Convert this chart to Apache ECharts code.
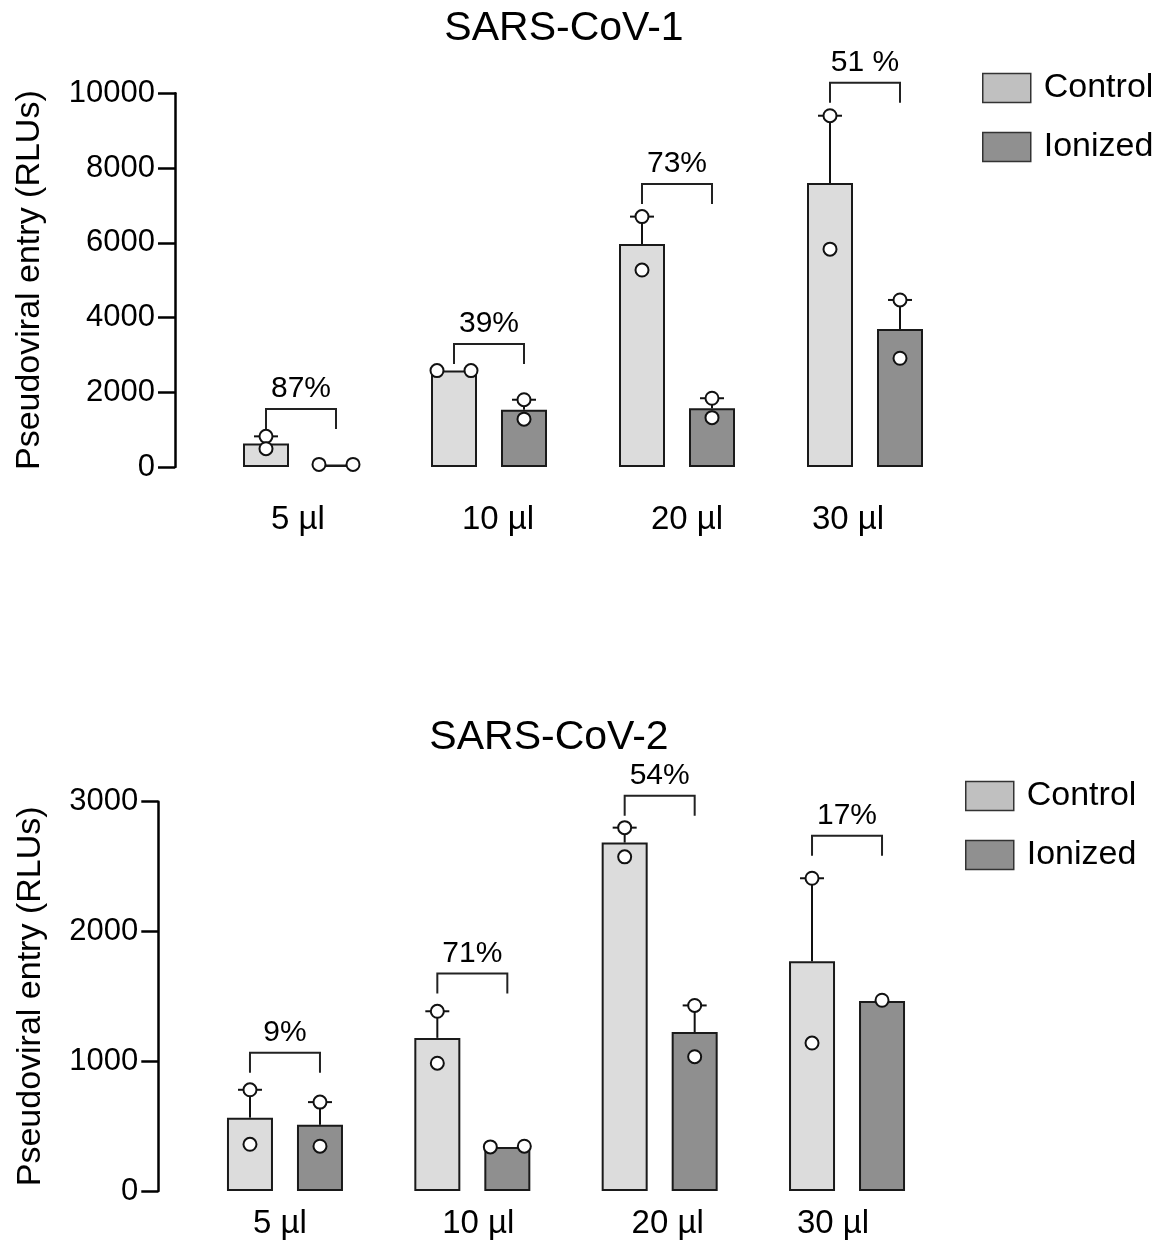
<!DOCTYPE html>
<html><head><meta charset="utf-8">
<script src="https://cdn.jsdelivr.net/npm/echarts@6/dist/echarts.min.js"></script>
<style>html,body{margin:0;padding:0;background:#fff}#c{width:1158px;height:1245px}</style>
</head><body><div id="c"></div><script>
// ---------- data ----------
const categories = ['5 µl', '10 µl', '20 µl', '30 µl'];
const seriesNames = ['Control', 'Ionized'];

// SARS-CoV-1
const cov1Title = 'SARS-CoV-1';
const cov1YTicks = { min: 0, max: 10000, interval: 2000 };
const cov1ControlMean = [630, 2580, 5970, 7600];
const cov1IonizedMean = [70, 1530, 1570, 3690];
const cov1ControlErr = [190, 0, 730, 1800];
const cov1IonizedErr = [0, 270, 270, 780];
const cov1ControlPts = [[820, 490], [2580, 2580], [6700, 5270], [9400, 5830]];
const cov1IonizedPts = [[70, 70], [1800, 1280], [1840, 1320], [4470, 2910]];
const cov1BracketTop = [1552, 3291, 7573, 10284];
const cov1Percent = ['87%', '39%', '73%', '51 %'];

// SARS-CoV-2
const cov2Title = 'SARS-CoV-2';
const cov2YTicks = { min: 0, max: 3000, interval: 1000 };
const cov2ControlMean = [565, 1180, 2685, 1770];
const cov2IonizedMean = [510, 340, 1225, 1465];
const cov2ControlErr = [215, 205, 115, 640];
const cov2IonizedErr = [175, 0, 205, 0];
const cov2ControlPts = [[780, 360], [1385, 985], [2800, 2575], [2410, 1140]];
const cov2IonizedPts = [[685, 345], [340, 345], [1430, 1035], [1470]];
const cov2BracketTop = [1066, 1677, 3045, 2737];
const cov2Percent = ['9%', '71%', '54%', '17%'];

const yName = 'Pseudoviral entry (RLUs)';

// ---------- style / layout ----------
const FONT = "'Liberation Sans', Arial, Helvetica, sans-serif";
const BAR_W = 46, BAR_GAP = 24;
const OFF = (BAR_W + BAR_GAP) / 2;
const INK = '#111';
const CTRL_FILL = '#dcdcdc', ION_FILL = '#8f8f8f';
// horizontal nudges of the category labels (px) as placed in the original figure
const LABEL_SHIFT_1 = [-3, 9, 10, -17];
const LABEL_SHIFT_2 = [-5, 6, 8, -14];

function panel(k, d, grid, axisOffset, xLabelMargin, nameGap, shifts) {
  const grids = { left: grid.left, right: grid.right, top: grid.top, bottom: grid.bottom, containLabel: false };
  const rich = {};
  shifts.forEach((s, i) => {
    rich['s' + i] = { fontSize: 33, fontFamily: FONT, color: '#000',
      padding: s >= 0 ? [0, 0, 0, 2 * s] : [0, -2 * s, 0, 0] };
  });
  const xAxis = {
    type: 'category', gridIndex: k, data: categories,
    axisLine: { show: false }, axisTick: { show: false },
    axisLabel: { color: '#000', fontSize: 33, fontFamily: FONT, margin: xLabelMargin,
      formatter: (v, i) => '{s' + i + '|' + v + '}', rich: rich }
  };
  const yAxis = {
    type: 'value', gridIndex: k, min: d.ticks.min, max: d.ticks.max, interval: d.ticks.interval,
    offset: axisOffset,
    splitLine: { show: false },
    axisLine: { show: true, lineStyle: { color: '#000', width: 2.5 } },
    axisTick: { show: true, length: 17, lineStyle: { color: '#000', width: 2.5 } },
    axisLabel: { color: '#000', fontSize: 31, fontFamily: FONT, margin: 20,
      formatter: v => String(v) },
    name: yName, nameLocation: 'middle', nameGap: nameGap,
    nameTextStyle: { color: '#000', fontSize: 34, fontFamily: FONT }
  };
  const bar = (name, data, fill) => ({
    type: 'bar', name: name, xAxisIndex: k, yAxisIndex: k, data: data,
    barWidth: BAR_W, barGap: (BAR_GAP / BAR_W * 100) + '%',
    itemStyle: { color: fill, borderColor: '#1a1a1a', borderWidth: 2 },
    emphasis: { disabled: true }, z: 2
  });
  const errSeries = (mean, err, sign) => ({
    type: 'custom', xAxisIndex: k, yAxisIndex: k, z: 3, clip: false, silent: true,
    data: mean.map((m, i) => [i, m, err[i]]),
    renderItem: function (params, api) {
      const i = api.value(0), m = api.value(1), e = api.value(2);
      if (!e) return null;
      const p0 = api.coord([i, m]);
      const p1 = api.coord([i, m + e]);
      const x = p0[0] + sign * OFF;
      const st = { stroke: INK, lineWidth: 2 };
      return { type: 'group', children: [
        { type: 'line', shape: { x1: x, y1: p0[1], x2: x, y2: p1[1] }, style: st },
        { type: 'line', shape: { x1: x - 12, y1: p1[1], x2: x + 12, y2: p1[1] }, style: st }
      ]};
    }
  });
  const ptSeries = (mean, pts, sign) => ({
    type: 'custom', xAxisIndex: k, yAxisIndex: k, z: 5, clip: false, silent: true,
    data: mean.map((m, i) => [i, m]),
    renderItem: function (params, api) {
      const i = api.value(0);
      const vals = pts[params.dataIndex];
      const cx = api.coord([i, 0])[0] + sign * OFF;
      const ys = vals.map(v => api.coord([i, v])[1]);
      const close = ys.length === 2 && Math.abs(ys[0] - ys[1]) < 10;
      const children = ys.map((y, j) => ({
        type: 'circle',
        shape: { cx: close ? cx + (j === 0 ? -17 : 17) : cx, cy: y, r: 6.5 },
        style: { fill: '#fff', stroke: INK, lineWidth: 2 }
      }));
      return { type: 'group', children: children };
    }
  });
  const bracketSeries = {
    type: 'custom', xAxisIndex: k, yAxisIndex: k, z: 4, clip: false, silent: true,
    data: d.bracket.map((b, i) => [i, b]),
    renderItem: function (params, api) {
      const i = api.value(0), b = api.value(1);
      const p = api.coord([i, b]);
      const xl = p[0] - OFF, xr = p[0] + OFF, y = p[1];
      return { type: 'group', children: [
        { type: 'polyline', shape: { points: [[xl, y + 20], [xl, y], [xr, y], [xr, y + 20]] },
          style: { stroke: '#222', lineWidth: 2, fill: null } },
        { type: 'text', style: { text: d.pct[params.dataIndex], x: p[0], y: y - 20,
          align: 'center', verticalAlign: 'middle', fill: '#000', fontSize: 30, fontFamily: FONT } }
      ]};
    }
  };
  return {
    grid: grids, xAxis: xAxis, yAxis: yAxis,
    series: [
      bar(seriesNames[0], d.cMean, CTRL_FILL),
      bar(seriesNames[1], d.iMean, ION_FILL),
      errSeries(d.cMean, d.cErr, -1),
      errSeries(d.iMean, d.iErr, 1),
      ptSeries(d.cMean, d.cPts, -1),
      ptSeries(d.iMean, d.iPts, 1),
      bracketSeries
    ]
  };
}

const p1 = panel(0, {
  ticks: cov1YTicks, cMean: cov1ControlMean, iMean: cov1IonizedMean,
  cErr: cov1ControlErr, iErr: cov1IonizedErr, cPts: cov1ControlPts, iPts: cov1IonizedPts,
  bracket: cov1BracketTop, pct: cov1Percent
}, { left: 207, right: 199, top: 93.3, bottom: 778 }, 32, 36, 128, LABEL_SHIFT_1);

const p2 = panel(1, {
  ticks: cov2YTicks, cMean: cov2ControlMean, iMean: cov2IonizedMean,
  cErr: cov2ControlErr, iErr: cov2IonizedErr, cPts: cov2ControlPts, iPts: cov2IonizedPts,
  bracket: cov2BracketTop, pct: cov2Percent
}, { left: 191.3, right: 217.3, top: 801.7, bottom: 54 }, 33, 16, 111, LABEL_SHIFT_2);

const legendData = [
  { name: seriesNames[0], itemStyle: { color: '#c0c0c0', borderColor: '#333', borderWidth: 1.5 } },
  { name: seriesNames[1], itemStyle: { color: '#909090', borderColor: '#333', borderWidth: 1.5 } }
];
const legendBase = {
  orient: 'vertical', icon: 'rect', itemWidth: 48, itemHeight: 29, itemGap: 25,
  selectedMode: false, data: legendData,
  textStyle: { color: '#000', fontSize: 34, fontFamily: FONT, lineHeight: 29, padding: [0, 0, 0, 8] }
};

const chart = echarts.init(document.getElementById('c'), null, { renderer: 'canvas' });
chart.setOption({
  backgroundColor: '#fff',
  animation: false,
  title: [
    { text: cov1Title, left: 559, top: 3, textAlign: 'center',
      textStyle: { color: '#000', fontSize: 41, fontWeight: 'normal', fontFamily: FONT } },
    { text: cov2Title, left: 544, top: 712, textAlign: 'center',
      textStyle: { color: '#000', fontSize: 41, fontWeight: 'normal', fontFamily: FONT } }
  ],
  legend: [
    Object.assign({}, legendBase, { left: 977, top: 66 }),
    Object.assign({}, legendBase, { left: 960, top: 774 })
  ],
  grid: [p1.grid, p2.grid],
  xAxis: [p1.xAxis, p2.xAxis],
  yAxis: [p1.yAxis, p2.yAxis],
  series: p1.series.concat(p2.series)
});
</script></body></html>
